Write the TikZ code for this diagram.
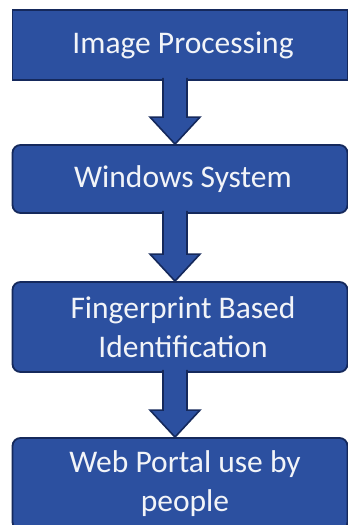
\documentclass[tikz,border=0pt]{standalone}
\usepackage{fontspec}
\setmainfont{Carlito}
\usetikzlibrary{calc}
\definecolor{boxfill}{HTML}{2C50A0}
\definecolor{boxline}{HTML}{15295C}
\definecolor{txt}{HTML}{F2F4F8}
\tikzset{
  stepbox/.style={draw=boxline, line width=1.8pt, fill=boxfill, text=txt,
    minimum width=335pt, align=center, inner sep=0pt,
    font=\fontsize{31.5}{39}\selectfont},
  arr/.style={draw=boxline, line width=1.6pt, fill=boxfill, line join=miter}
}
\newcommand\flowarrow[2]{%
  \path[arr] let \p1=($(#1.south -| ax)+(0,3pt)$), \p2=(#2.north -| ax) in
    (\x1-12pt,\y1) -- (\x1-12pt,\y2+27pt) -- (\x1-25pt,\y2+27pt) -- (\x2,\y2)
    -- (\x1+25pt,\y2+27pt) -- (\x1+12pt,\y2+27pt) -- (\x1+12pt,\y1);}
\begin{document}
\begin{tikzpicture}[x=1pt,y=1pt]
\useasboundingbox[fill=white] (0,0) rectangle (348,-525);
\coordinate (ax) at (175,0);
\node[stepbox, minimum height=70pt] (a) at (180,-45) {\hspace*{6pt}Image Processing};
\node[stepbox, minimum height=68pt, rounded corners=8pt] (b) at (180,-179) {\hspace*{6pt}Windows System};
\node[stepbox, minimum height=90pt, rounded corners=8pt] (c) at (180,-327) {\hspace*{6pt}Fingerprint Based\\\hspace*{6pt}Identification};
\node[stepbox, minimum height=92pt, rounded corners=8pt] (d) at (180,-484) {\hspace*{10pt}Web Portal use by\\\hspace*{10pt}people};
\flowarrow{a}{b}
\flowarrow{b}{c}
\flowarrow{c}{d}
\end{tikzpicture}
\end{document}
